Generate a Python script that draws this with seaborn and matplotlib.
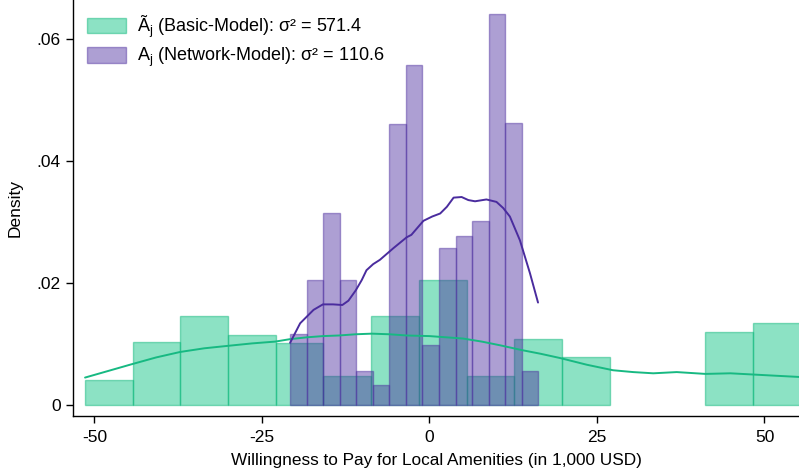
import numpy as np
import pandas as pd
import matplotlib
matplotlib.use("Agg")
import matplotlib.pyplot as plt
import seaborn as sns
from matplotlib.patches import Patch

# ---------------- data ----------------
basic_bin_lo, basic_bin_width, basic_nbins = -51.42, 7.121, 15
basic_density = [0.0041, 0.0103, 0.0146, 0.0115, 0.0101, 0.0047, 0.0146, 0.0205,
                 0.0048, 0.0108, 0.0078, 0.0, 0.0, 0.0119, 0.0134]

network_bin_lo, network_bin_width, network_nbins = -20.82, 2.471, 15
network_density = [0.0116, 0.0205, 0.0315, 0.0205, 0.0055, 0.0033, 0.0461, 0.0558,
                   0.0098, 0.0257, 0.0277, 0.0302, 0.0641, 0.0463, 0.0056]

basic_kde_x = [-51.4, -47.9, -44.4, -40.8, -37.2, -33.6, -30.1, -26.5, -23.0, -20.8, -18.3,
               -15.9, -13.5, -11.0, -8.6, -6.0, -3.4, 0.0, 2.5, 5.0, 7.8, 10.5, 13.8, 16.6,
               19.5, 23.5, 27.4, 30.4, 33.4, 36.9, 41.2, 44.9, 48.3, 51.7, 55.2]
basic_kde_y = [0.0045, 0.0056, 0.0067, 0.0078, 0.0087, 0.0093, 0.0097, 0.0101, 0.0104, 0.0108,
               0.0111, 0.0113, 0.0114, 0.0116, 0.0117, 0.0116, 0.0114, 0.0113, 0.0111, 0.0109,
               0.0104, 0.0098, 0.0090, 0.0084, 0.0077, 0.0066, 0.0057, 0.0054, 0.0052, 0.0054,
               0.0051, 0.0052, 0.0050, 0.0048, 0.0046]

network_kde_x = [-20.8, -19.3, -17.3, -15.9, -14.4, -13.0, -12.1, -11.0, -10.1, -9.4, -8.4, -7.4,
                 -5.4, -3.4, -2.7, -0.9, 0.4, 1.6, 2.6, 3.6, 4.8, 5.8, 6.8, 8.5, 10.0, 11.0,
                 12.0, 13.5, 15.0, 16.2]
network_kde_y = [0.0102, 0.0134, 0.0156, 0.0165, 0.0165, 0.0164, 0.0171, 0.0188, 0.0205, 0.0221,
                 0.0231, 0.0238, 0.0257, 0.0275, 0.0279, 0.0302, 0.0309, 0.0314, 0.0325, 0.0340,
                 0.0341, 0.0336, 0.0334, 0.0337, 0.0333, 0.0323, 0.0309, 0.0270, 0.0216, 0.0168]

legend_labels = ["Ã$_{\\mathrm{j}}$ (Basic-Model): σ² = 571.4",
                 "A$_{\\mathrm{j}}$ (Network-Model): σ² = 110.6"]
x_ticks = [-50, -25, 0, 25, 50]
x_ticklabels = ["-50", "-25", "0", "25", "50"]
y_ticks = [0.0, 0.02, 0.04, 0.06]
y_ticklabels = ["0", ".02", ".04", ".06"]
x_label = "Willingness to Pay for Local Amenities (in 1,000 USD)"
y_label = "Density"

# ---------------- style ----------------
sns.set_theme(style="ticks")
plt.rcParams["font.family"] = ["Liberation Sans", "DejaVu Sans"]
plt.rcParams["mathtext.fontset"] = "custom"
plt.rcParams["mathtext.rm"] = "Liberation Sans"
plt.rcParams["mathtext.it"] = "Liberation Sans:italic"
plt.rcParams["text.color"] = "black"
plt.rcParams["axes.labelcolor"] = "black"
plt.rcParams["xtick.color"] = "black"
plt.rcParams["ytick.color"] = "black"

green_face = (0.0, 0.75, 0.49, 0.45)
green_edge = (0.0, 0.70, 0.45, 0.45)
green_line = "#17b982"
purple_face = (0.29, 0.17, 0.62, 0.45)
purple_edge = (0.29, 0.17, 0.62, 0.45)
purple_line = "#4a2c9e"

basic_edges = [float(v) for v in basic_bin_lo + basic_bin_width * np.arange(basic_nbins + 1)]
network_edges = [float(v) for v in network_bin_lo + network_bin_width * np.arange(network_nbins + 1)]
basic_centers = [(a + b) / 2 for a, b in zip(basic_edges[:-1], basic_edges[1:])]
network_centers = [(a + b) / 2 for a, b in zip(network_edges[:-1], network_edges[1:])]

df_basic = pd.DataFrame({"x": basic_centers, "w": basic_density})
df_net = pd.DataFrame({"x": network_centers, "w": network_density})

fig = plt.figure(figsize=(7.99, 4.74), dpi=100)
ax = fig.add_axes([73 / 799, 58 / 474, 1 - 73 / 799, 416 / 474])

sns.histplot(data=df_basic, x="x", weights="w", bins=basic_edges, stat="count",
             facecolor=green_face, edgecolor=green_edge, linewidth=1.0, ax=ax)
sns.histplot(data=df_net, x="x", weights="w", bins=network_edges, stat="count",
             facecolor=purple_face, edgecolor=purple_edge, linewidth=1.0, ax=ax)

# empty bins draw no outline
for p in ax.patches:
    if p.get_height() == 0:
        p.set_linewidth(0)

sns.lineplot(x=basic_kde_x, y=basic_kde_y, color=green_line, linewidth=1.4, ax=ax,
             estimator=None, sort=False)
sns.lineplot(x=network_kde_x, y=network_kde_y, color=purple_line, linewidth=1.4, ax=ax,
             estimator=None, sort=False)

ax.set_xlim(-53.2, 55.15)
ax.set_ylim(-0.0018, 0.0664)
ax.set_xticks(x_ticks)
ax.set_xticklabels(x_ticklabels)
ax.set_yticks(y_ticks)
ax.set_yticklabels(y_ticklabels)
ax.tick_params(axis="both", labelsize=12.5, length=5, width=1, color="black", pad=4)
ax.tick_params(axis="x", pad=5)
ax.set_xlabel(x_label, fontsize=12.4, labelpad=6)
ax.set_ylabel(y_label, fontsize=12.5, labelpad=10)
for s in ["top", "right"]:
    ax.spines[s].set_visible(False)
for s in ["left", "bottom"]:
    ax.spines[s].set_linewidth(1.0)
    ax.spines[s].set_color("black")

handles = [Patch(facecolor=green_face, edgecolor=green_edge, linewidth=1.0),
           Patch(facecolor=purple_face, edgecolor=purple_edge, linewidth=1.0)]
ax.legend(handles, legend_labels, loc="upper left", bbox_to_anchor=(0.0, 1.0),
          frameon=False, fontsize=13, handlelength=2.2, handleheight=0.95,
          labelspacing=0.35, handletextpad=0.6, borderaxespad=0.35)

fig.savefig("out.png", dpi=100)
